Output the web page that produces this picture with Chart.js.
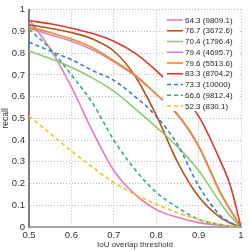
<!DOCTYPE html>
<html>
<head>
<meta charset="utf-8">
<script src="https://cdn.jsdelivr.net/npm/chart.js@4"></script>
<style>
  html, body { margin: 0; padding: 0; background: #fff; }
  #wrap { width: 249px; height: 251px; }
</style>
</head>
<body>
<div id="wrap"><canvas id="c" width="249" height="251"></canvas></div>
<script>
// IoU thresholds (x values)
const thresholds = [0.5, 0.55, 0.6, 0.65, 0.7, 0.75, 0.8, 0.85, 0.9, 0.95, 0.975, 1];

// series labels (legend)
const seriesLabels = ['64.3 (9809.1)', '76.7 (3672.6)', '70.4 (1796.4)', '79.4 (4695.7)', '79.6 (5513.6)',
                      '83.3 (8704.2)', '73.3 (10000)', '66.6 (9812.4)', '52.3 (830.1)'];

// recall values per series
const pinkRecall   = [0.955, 0.82, 0.645, 0.44, 0.26, 0.15, 0.08, 0.045, 0.02, 0.008, 0.003, 0];
const brownRecall  = [0.93, 0.915, 0.895, 0.865, 0.81, 0.695, 0.515, 0.30, 0.14, 0.045, 0.018, 0];
const greenRecall  = [0.81, 0.775, 0.735, 0.685, 0.625, 0.545, 0.46, 0.37, 0.26, 0.115, 0.05, 0];
const purpleRecall = [0.915, 0.885, 0.855, 0.815, 0.76, 0.695, 0.61, 0.515, 0.37, 0.16, 0.075, 0];
const orangeRecall = [0.92, 0.895, 0.865, 0.825, 0.765, 0.70, 0.612, 0.52, 0.375, 0.165, 0.08, 0];
const redRecall    = [0.95, 0.935, 0.915, 0.89, 0.855, 0.80, 0.72, 0.625, 0.51, 0.31, 0.19, 0];
const blueRecall   = [0.85, 0.81, 0.77, 0.72, 0.675, 0.60, 0.51, 0.38, 0.19, 0.055, 0.02, 0];
const tealRecall   = [0.91, 0.82, 0.70, 0.57, 0.40, 0.265, 0.16, 0.09, 0.035, 0.012, 0.005, 0];
const yellowRecall = [0.51, 0.43, 0.35, 0.275, 0.205, 0.15, 0.105, 0.066, 0.035, 0.012, 0.005, 0];

const xTicks = [0.5, 0.6, 0.7, 0.8, 0.9, 1];
const yTicks = [0, 0.1, 0.2, 0.3, 0.4, 0.5, 0.6, 0.7, 0.8, 0.9, 1];

const seriesValues = [pinkRecall, brownRecall, greenRecall, purpleRecall, orangeRecall,
                      redRecall, blueRecall, tealRecall, yellowRecall];
const seriesColors = ['#e57bbf', '#b0531d', '#8ccb72', '#c08ad6', '#f08a24',
                      '#e0362e', '#3f7fbd', '#35ab8b', '#e9c81d'];
const seriesDashed = [false, false, false, false, false, false, true, true, true];

const FONT = '"Liberation Sans", Arial, Helvetica, sans-serif';

const datasets = seriesValues.map((vals, i) => ({
  label: seriesLabels[i],
  data: thresholds.map((t, j) => ({ x: t, y: vals[j] })),
  borderColor: seriesColors[i],
  backgroundColor: seriesColors[i],
  borderWidth: 1.6,
  borderDash: seriesDashed[i] ? [4, 3] : [],
  pointRadius: 0,
  fill: false,
  cubicInterpolationMode: 'monotone',
  order: seriesValues.length - i
}));

const legendOnTop = {
  id: 'legendOnTop',
  afterDatasetsDraw(chart) {
    const ctx = chart.ctx;
    const ca = chart.chartArea;
    const bx = 163, by = 13, bw = ca.right - 1 - bx, bh = 98;
    ctx.save();
    ctx.fillStyle = '#ffffff';
    ctx.fillRect(bx, by, bw, bh);
    ctx.font = '8px ' + FONT;
    ctx.textBaseline = 'middle';
    ctx.textAlign = 'left';
    chart.data.datasets.forEach((ds, i) => {
      const y = 20 + i * 10.75;
      ctx.beginPath();
      ctx.lineWidth = 1.6;
      ctx.strokeStyle = ds.borderColor;
      ctx.setLineDash(ds.borderDash || []);
      ctx.moveTo(167, y);
      ctx.lineTo(183, y);
      ctx.stroke();
      ctx.setLineDash([]);
      ctx.fillStyle = '#262626';
      ctx.fillText(ds.label, 185, y + 0.5);
    });
    ctx.restore();
  }
};

new Chart(document.getElementById('c'), {
  type: 'line',
  data: { datasets },
  plugins: [legendOnTop],
  options: {
    responsive: false,
    animation: false,
    devicePixelRatio: 1,
    layout: { padding: { left: 0, right: 8, top: 9, bottom: 0 } },
    plugins: { legend: { display: false }, tooltip: { enabled: false } },
    scales: {
      x: {
        type: 'linear',
        min: 0.5, max: 1,
        afterFit(s) { s.height = 24; },
        afterBuildTicks(s) { s.ticks = xTicks.map(v => ({ value: v })); },
        ticks: {
          padding: 3,
          color: '#333',
          font: { family: FONT, size: 9.5 },
          maxRotation: 0,
          callback: v => String(v)
        },
        grid: { color: '#bdbdbd', lineWidth: 1, drawTicks: false },
        border: { display: true, color: '#a6a6a6', width: 2, dash: [1, 2] },
        title: { display: true, text: 'IoU overlap threshold', color: '#333',
                 font: { family: FONT, size: 8 }, padding: { top: 0, bottom: 1 } }
      },
      y: {
        type: 'linear',
        min: 0, max: 1,
        afterFit(s) { s.width = 29; },
        afterBuildTicks(s) { s.ticks = yTicks.map(v => ({ value: v })); },
        ticks: {
          padding: 4,
          color: '#333',
          font: { family: FONT, size: 9.5 },
          callback: v => String(v)
        },
        grid: { color: '#bdbdbd', lineWidth: 1, drawTicks: false },
        border: { display: true, color: '#808080', width: 2, dash: [1, 2] },
        title: { display: true, text: 'recall', color: '#333',
                 font: { family: FONT, size: 8.5 }, padding: { top: 1, bottom: 0 } }
      }
    }
  }
});
</script>
</body>
</html>
